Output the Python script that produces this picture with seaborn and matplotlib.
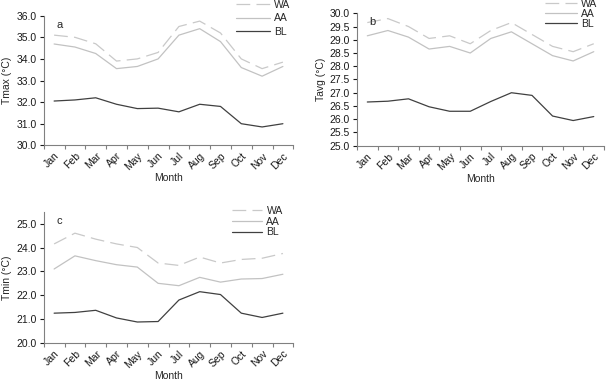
import numpy as np
import pandas as pd
import matplotlib
matplotlib.use("Agg")
import matplotlib.pyplot as plt
from matplotlib.ticker import FormatStrFormatter, FixedLocator
import seaborn as sns

# ---------------- data ----------------
months = ['Jan', 'Feb', 'Mar', 'Apr', 'May', 'Jun', 'Jul', 'Aug', 'Sep', 'Oct', 'Nov', 'Dec']

tmax_wa = [35.1, 35.0, 34.7, 33.9, 34.0, 34.3, 35.5, 35.75, 35.2, 34.0, 33.55, 33.85]
tmax_aa = [34.69, 34.55, 34.25, 33.55, 33.65, 34.0, 35.1, 35.4, 34.8, 33.6, 33.2, 33.65]
tmax_bl = [32.05, 32.1, 32.2, 31.9, 31.7, 31.72, 31.55, 31.9, 31.8, 31.0, 30.85, 31.0]

tavg_wa = [29.65, 29.8, 29.5, 29.05, 29.15, 28.85, 29.35, 29.65, 29.2, 28.75, 28.55, 28.85]
tavg_aa = [29.15, 29.35, 29.1, 28.65, 28.75, 28.5, 29.05, 29.3, 28.85, 28.4, 28.2, 28.55]
tavg_bl = [26.65, 26.68, 26.77, 26.47, 26.3, 26.3, 26.67, 27.0, 26.9, 26.12, 25.95, 26.1]

tmin_wa = [24.15, 24.6, 24.35, 24.15, 24.0, 23.35, 23.25, 23.6, 23.35, 23.5, 23.55, 23.75]
tmin_aa = [23.1, 23.65, 23.45, 23.28, 23.18, 22.5, 22.4, 22.75, 22.55, 22.68, 22.7, 22.88]
tmin_bl = [21.25, 21.28, 21.37, 21.05, 20.88, 20.9, 21.8, 22.15, 22.03, 21.25, 21.07, 21.25]

series_names = ['WA', 'AA', 'BL']

# ---------------- style ----------------
sns.set_style('ticks')
plt.rcParams['font.family'] = ['Liberation Sans', 'DejaVu Sans']
plt.rcParams['font.size'] = 7.5

colors = {'WA': '#c9c9c9', 'AA': '#c2c2c2', 'BL': '#404040'}
dashes = {'WA': (0, (11, 5)), 'AA': '-', 'BL': '-'}
spine_col = '#808080'

fig = plt.figure(figsize=(6.08, 3.83), dpi=100)

# panel boxes in figure fractions (left, bottom, width, height)
ax_a = fig.add_axes([0.0719, 0.6206, 0.4105, 0.3384])
ax_b = fig.add_axes([0.5872, 0.6196, 0.4063, 0.3457])
ax_c = fig.add_axes([0.0719, 0.1044, 0.4105, 0.3429])

# ax, series, ylabel, letter, ylim, yticks, legend anchor (upper right), labelspacing, handlelength
panels = [
    (ax_a, [tmax_wa, tmax_aa, tmax_bl], 'Tmax (°C)', 'a', (30, 36), np.arange(30, 36.01, 1.0),
     (0.478, 1.0), 0.32, 3.2),
    (ax_b, [tavg_wa, tavg_aa, tavg_bl], 'Tavg (°C)', 'b', (25, 30), np.arange(25, 30.01, 0.5),
     (0.983, 1.003), 0.0, 3.0),
    (ax_c, [tmin_wa, tmin_aa, tmin_bl], 'Tmin (°C)', 'c', (20, 25.5), np.arange(20, 25.01, 1.0),
     (0.465, 0.462), 0.06, 2.9),
]

for ax, vals, ylab, letter, ylim, yticks, leg_pos, lspace, hlen in panels:
    df = pd.DataFrame({'Month': months * 3,
                       'value': vals[0] + vals[1] + vals[2],
                       'series': sum([[s] * 12 for s in series_names], [])})
    for s in series_names:
        sub = df[df['series'] == s]
        sns.lineplot(x=np.arange(12), y=sub['value'].values, ax=ax, color=colors[s],
                     linestyle=dashes[s], linewidth=0.9, label=s)

    ax.set_xlim(-0.5, 11.5)
    ax.set_ylim(*ylim)
    ax.set_yticks(yticks)
    ax.yaxis.set_major_formatter(FormatStrFormatter('%.1f'))
    ax.set_xticks(np.arange(12))
    ax.set_xticklabels(months, rotation=45, ha='right', rotation_mode='anchor')
    ax.xaxis.set_minor_locator(FixedLocator(np.arange(-0.5, 12, 1)))
    ax.tick_params(axis='x', which='major', length=0, pad=4)
    ax.tick_params(axis='x', which='minor', length=3, width=0.8, color=spine_col)
    ax.tick_params(axis='y', length=3, width=0.8, color=spine_col, pad=2)
    ax.tick_params(labelsize=7.5, colors='#1a1a1a')

    for side in ['top', 'right']:
        ax.spines[side].set_visible(False)
    for side in ['left', 'bottom']:
        ax.spines[side].set_color(spine_col)
        ax.spines[side].set_linewidth(0.8)

    ax.set_xlabel('Month', fontsize=7.5, labelpad=1)
    ax.set_ylabel(ylab, fontsize=7.5, labelpad=3)
    ax.text(0.05, 0.97, letter, transform=ax.transAxes, fontsize=8, va='top', ha='left')

    ax.legend(loc='upper right', bbox_to_anchor=leg_pos, bbox_transform=fig.transFigure,
              frameon=False, fontsize=7.5, handlelength=hlen, handletextpad=0.45,
              labelspacing=lspace, borderpad=0, borderaxespad=0)

fig.savefig('out.png', dpi=100)
